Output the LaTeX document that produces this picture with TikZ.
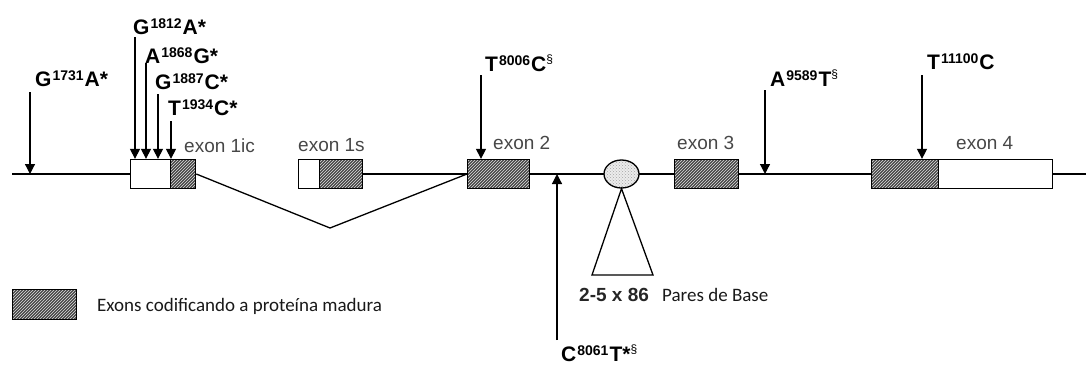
\documentclass[tikz,border=0pt]{standalone}
\usepackage{fontspec}
\setmainfont{Liberation Sans}
\newfontfamily\legfont{Carlito}
\usetikzlibrary{arrows.meta,patterns,shapes.geometric}
\newcommand\sps[1]{\kern1pt\raisebox{0.3em}{\fontsize{14}{14}\selectfont #1}\kern1pt}
\newcommand\spn[1]{\raisebox{0.4em}{\fontsize{12}{12}\selectfont\mdseries #1}}
\begin{document}
\begin{tikzpicture}[x=1pt,y=-1pt,
  lin/.style={line width=1.3pt,black},
  wbox/.style={draw,line width=1.3pt,fill=white,minimum height=29pt,inner sep=0pt,anchor=west},
  hbox/.style={draw,line width=1.3pt,minimum height=29pt,inner sep=0pt,anchor=west,
     preaction={fill=gray!55!black},pattern=north east lines,pattern color=white!75!gray},
  mut/.style={font=\fontsize{21}{24}\selectfont\bfseries,inner sep=0pt,anchor=west},
  exl/.style={font=\fontsize{19}{23}\selectfont,text=black!72,inner sep=0pt,anchor=west},
  arr/.style={line width=1.2pt,-{Triangle[width=10pt,length=10pt]}},
  leg/.style={font=\legfont\fontsize{19}{22}\selectfont,text=black!90,inner sep=0pt,anchor=west}
]
\useasboundingbox (0,0) rectangle (1086,365);

% exon boxes
\node[wbox,minimum width=40pt] (e1icW) at (130,174) {};
\node[hbox,minimum width=25pt] (e1icH) at (170,174) {};
\node[wbox,minimum width=21pt] (e1sW) at (298,174) {};
\node[hbox,minimum width=43pt] (e1sH) at (319,174) {};
\node[hbox,minimum width=62pt] (e2) at (467,174) {};
\node[hbox,minimum width=64pt] (e3) at (674,174) {};
\node[hbox,minimum width=67pt] (e4H) at (871,174) {};
\node[wbox,minimum width=114pt] (e4W) at (938,174) {};

% ends of the main line
\coordinate (L) at (12,174);
\coordinate (R) at (1086,174);
\coordinate (V) at (330,228);

\draw[lin] (L) -- (e1icW.west);
\draw[lin] (e1sH.east) -- (e2.west);
\draw[lin] (e2.east) -- (e3.west);
\draw[lin] (e3.east) -- (e4H.west);
\draw[lin] (e4W.east) -- (R);
\draw[lin] (e1icH.east) -- (V) -- (e2.west);

% repeat region
\node[ellipse,draw,line width=1.3pt,minimum width=35pt,minimum height=28pt,inner sep=0pt,
  preaction={fill=gray!15},pattern=crosshatch dots,pattern color=gray!70] (ell) at (621.5,174) {};
\coordinate (tl) at (592,275);
\coordinate (tr) at (653,275);
\draw[lin,line join=miter] (ell.south) -- (tl) -- (tr) -- cycle;

% exon labels
\node[exl] (l1ic) at (184,146) {exon 1ic};
\node[exl] (l1s) at (298,145) {exon 1s};
\node[exl] (l2) at (493,143) {exon 2};
\node[exl] (l3) at (677,143) {exon 3};
\node[exl] (l4) at (956,143) {exon 4};

% mutations
\node[mut] (m1731) at (35,79) {G\sps{1731}A*};
\node[mut] (m1812) at (133,27) {G\sps{1812}A*};
\node[mut] (m1868) at (145,56) {A\sps{1868}G*};
\node[mut] (m1887) at (155,82) {G\sps{1887}C*};
\node[mut] (m1934) at (168,108) {T\sps{1934}C*};
\node[mut] (m8006) at (485,63) {T\sps{8006}C\spn{§}};
\node[mut] (m9589) at (770,78) {A\sps{9589}T\spn{§}};
\node[mut] (m11100) at (927,62) {T\sps{11100}C};
\node[mut] (m8061) at (561,353) {C\sps{8061}T*\spn{§}};

\coordinate (s1731) at (30,92);
\coordinate (t1731) at (30,174);
\coordinate (s1812) at (135,37);
\coordinate (s1868) at (146,63);
\coordinate (s1887) at (158,94);
\coordinate (s1934) at (171,121);
\coordinate (s8006) at (481,75);
\coordinate (s9589) at (765,90);
\coordinate (t9589) at (765,174);
\coordinate (s11100) at (922,75);
\coordinate (s8061) at (557,340);
\coordinate (t8061) at (557,174);

\draw[arr] (s1731) -- (t1731);
\draw[arr] (s1812) -- (s1812 |- e1icW.north);
\draw[arr] (s1868) -- (s1868 |- e1icW.north);
\draw[arr] (s1887) -- (s1887 |- e1icW.north);
\draw[arr] (s1934) -- (s1934 |- e1icW.north);
\draw[arr] (s8006) -- (s8006 |- e2.north);
\draw[arr] (s9589) -- (t9589);
\draw[arr] (s11100) -- (s11100 |- e4H.north);
\draw[arr] (s8061) -- (t8061);

% repeat label
\node[font=\fontsize{19}{22}\selectfont\bfseries,text=black!85,inner sep=0pt,anchor=west] (rep) at (579,295) {2-5 x 86};
\node[leg] (repb) at (662,295) {Pares de Base};

% legend
\node[hbox,minimum width=64pt,minimum height=30pt,line width=1pt] (legbox) at (12,304) {};
\node[leg] (legt) at (97,306) {Exons codificando a proteína madura};
\end{tikzpicture}
\end{document}
